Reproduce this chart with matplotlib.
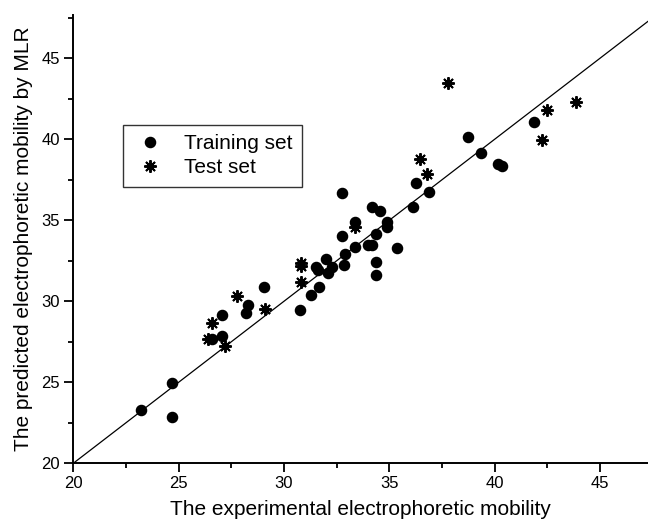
import matplotlib
matplotlib.use("Agg")
import matplotlib.pyplot as plt
from matplotlib.ticker import MultipleLocator

plt.rcParams['font.family'] = ['Liberation Sans', 'DejaVu Sans']

train_x = [23.2, 24.67, 24.67, 26.57, 27.07, 27.07, 28.27, 28.2, 29.05, 30.76,
           31.27, 31.66, 31.5, 31.63, 31.98, 32.26, 32.1, 32.86, 32.9, 32.77,
           32.77, 33.37, 33.37, 34.0, 34.16, 34.16, 34.56, 34.37, 34.37, 34.37,
           34.87, 34.87, 35.35, 36.14, 36.25, 36.88, 38.75, 39.35, 40.14, 40.36,
           41.87]
train_y = [23.3, 24.98, 22.88, 27.67, 29.15, 27.86, 29.77, 29.26, 30.9, 29.46,
           30.39, 30.86, 32.1, 31.93, 32.61, 32.1, 31.73, 32.24, 32.92, 34.03,
           36.67, 34.91, 33.37, 33.47, 33.47, 35.84, 35.59, 34.15, 32.44, 31.62,
           34.91, 34.6, 33.27, 35.84, 37.32, 36.77, 40.12, 39.17, 38.48, 38.35,
           41.09]

test_x = [26.41, 26.57, 27.2, 27.77, 29.08, 30.79, 30.79, 30.79, 33.37, 36.47,
          36.77, 37.77, 42.26, 42.47, 43.86]
test_y = [27.7, 28.64, 27.24, 30.33, 29.5, 32.35, 32.2, 31.21, 34.6, 38.78,
          37.84, 43.46, 39.96, 41.81, 42.3]

line_ends = [20, 48]

fig = plt.figure(figsize=(6.48, 5.27), dpi=100)
ax = fig.add_axes([0.1131, 0.1209, 0.8869, 0.8506])

ax.plot(line_ends, line_ends, color='black', lw=0.9)
ax.plot(train_x, train_y, 'o', color='black', markersize=7.3, linestyle='none',
        label='Training set')
ax.plot(test_x, test_y, marker=(8, 2, 0), color='black', markersize=9,
        markeredgewidth=1.4, linestyle='none', label='Test set')

ax.set_xlim(20, 47.28)
ax.set_ylim(20, 47.67)

for s in ['top', 'right']:
    ax.spines[s].set_visible(False)
for s in ['left', 'bottom']:
    ax.spines[s].set_linewidth(1.4)

ax.xaxis.set_major_locator(MultipleLocator(5))
ax.xaxis.set_minor_locator(MultipleLocator(2.5))
ax.yaxis.set_major_locator(MultipleLocator(5))
ax.yaxis.set_minor_locator(MultipleLocator(2.5))
ax.tick_params(which='major', direction='out', length=6.5, width=1.3,
               labelsize=12, pad=3)
ax.tick_params(which='minor', direction='out', length=3.5, width=1.3)

ax.set_xlabel('The experimental electrophoretic mobility', fontsize=15, labelpad=6)
ax.set_ylabel('The predicted electrophoretic mobility by MLR', fontsize=15, labelpad=6)

leg = ax.legend(loc='upper left', bbox_to_anchor=(0.086, 0.755), fontsize=15,
                frameon=True, fancybox=False, edgecolor='black',
                handletextpad=0.8, borderpad=0.45, labelspacing=0.25,
                handlelength=1.7, borderaxespad=0)
leg.get_frame().set_linewidth(1.0)

fig.savefig('out.png', dpi=100)
